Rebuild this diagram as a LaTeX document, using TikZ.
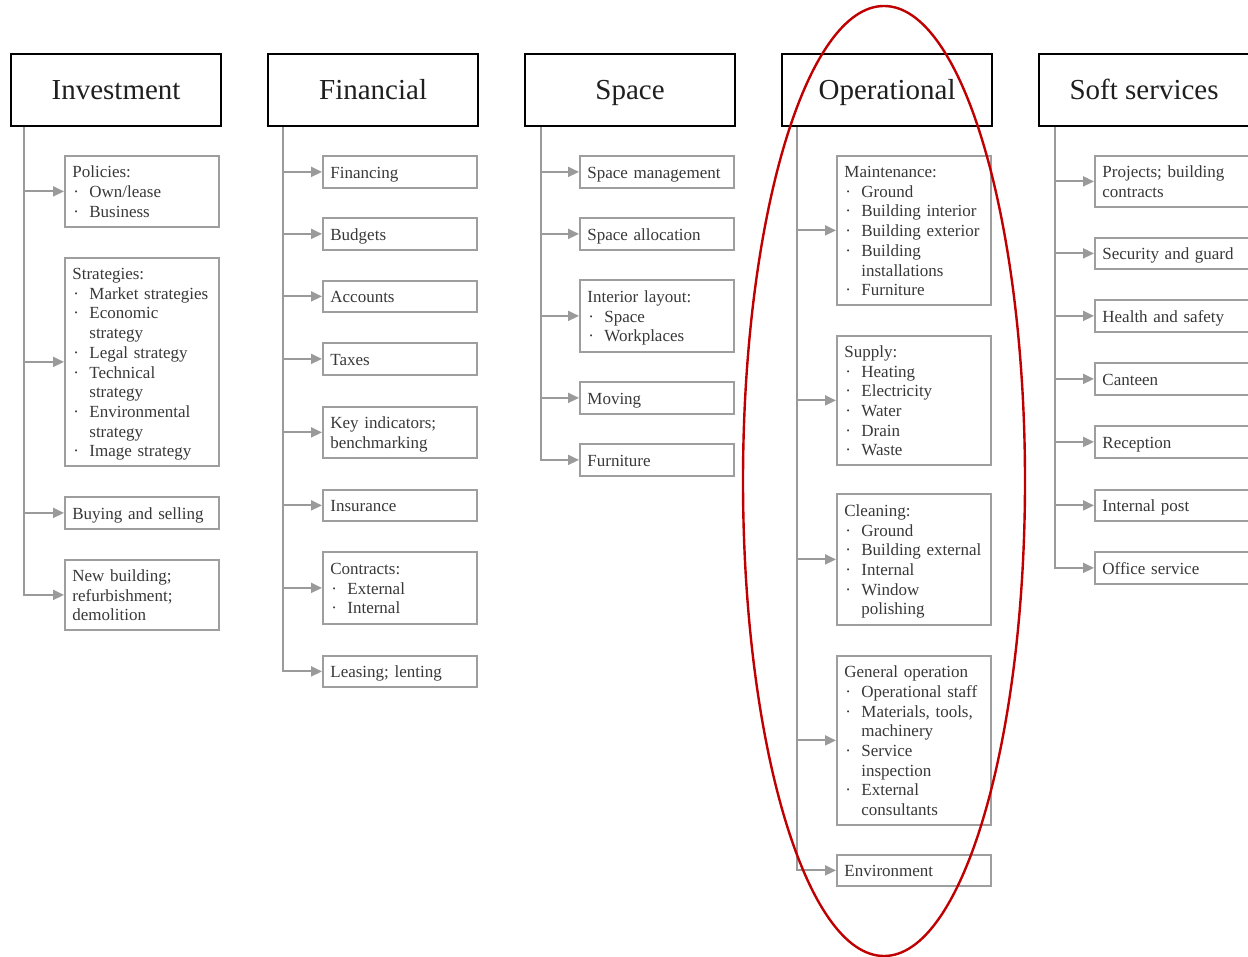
\documentclass[tikz,border=0pt]{standalone}
\usepackage{fontspec}
\setmainfont{Liberation Serif}
\usetikzlibrary{arrows.meta}
\definecolor{boxgray}{HTML}{9E9E9E}
\definecolor{arrgray}{HTML}{9A9A9A}
\definecolor{txt}{HTML}{383838}
\definecolor{ringred}{HTML}{C00000}
% bullet and continuation indents for list items inside the boxes
\newcommand\bl{\makebox[17pt][l]{\hspace{1pt}·}}
\newcommand\ct{\hspace*{17pt}}
\begin{document}
\begin{tikzpicture}[x=1pt,y=-1pt,
  hdr/.style={draw=black, line width=2.2pt, anchor=north west, minimum width=210pt,
    minimum height=72pt, inner sep=0pt, text height=22pt, text depth=4pt,
    font=\fontsize{29}{34}\selectfont, text=black!88},
  sub/.style={draw=boxgray, line width=1.8pt, anchor=north west, text width=139pt,
    inner xsep=7.5pt, inner ysep=0pt, align=left, text=txt,
    font=\fontsize{17}{19.7}\selectfont,
    execute at begin node=\rule{0pt}{18.5pt}, execute at end node=\strut},
  arr/.style={draw=arrgray, line width=2pt, -{Triangle[length=11pt,width=10pt]}}]
\useasboundingbox (0,0) rectangle (1248,957);

% ---------------- Investment
\node[hdr] (inv) at (10,53) {Investment};
\coordinate (tinv) at ([xshift=14pt]inv.south west);
\node[sub, minimum height=71pt] (inv1) at (64,155) {Policies:\\\bl Own/lease\\\bl Business};
\node[sub, minimum height=208pt] (inv2) at (64,257) {Strategies:\\\bl Market strategies\\\bl Economic\\\ct strategy\\\bl Legal strategy\\\bl Technical\\\ct strategy\\\bl Environmental\\\ct strategy\\\bl Image strategy};
\node[sub, minimum height=32pt] (inv3) at (64,496) {Buying and selling};
\node[sub, minimum height=70pt] (inv4) at (64,559) {New building;\\refurbishment;\\demolition};
\draw[arr] (tinv) |- (inv4.west);
\foreach \b in {inv1,inv2,inv3} \draw[arr] (tinv |- \b.west) -- (\b.west);

% ---------------- Financial
\node[hdr] (fin) at (267,53) {Financial};
\coordinate (tfin) at ([xshift=16pt]fin.south west);
\node[sub, minimum height=32pt] (fin1) at (322,155) {Financing};
\node[sub, minimum height=32pt] (fin2) at (322,217) {Budgets};
\node[sub, minimum height=31pt] (fin3) at (322,280) {Accounts};
\node[sub, minimum height=32pt] (fin4) at (322,342) {Taxes};
\node[sub, minimum height=51pt] (fin5) at (322,406) {Key indicators;\\benchmarking};
\node[sub, minimum height=31pt] (fin6) at (322,489) {Insurance};
\node[sub, minimum height=72pt] (fin7) at (322,551) {Contracts:\\\bl External\\\bl Internal};
\node[sub, minimum height=31pt] (fin8) at (322,655) {Leasing; lenting};
\draw[arr] (tfin) |- (fin8.west);
\foreach \b in {fin1,fin2,fin3,fin4,fin5,fin6,fin7} \draw[arr] (tfin |- \b.west) -- (\b.west);

% ---------------- Space
\node[hdr] (spa) at (524,53) {Space};
\coordinate (tspa) at ([xshift=17pt]spa.south west);
\node[sub, minimum height=32pt] (spa1) at (579,155) {Space management};
\node[sub, minimum height=32pt] (spa2) at (579,217) {Space allocation};
\node[sub, minimum height=72pt] (spa3) at (579,279) {Interior layout:\\\bl Space\\\bl Workplaces};
\node[sub, minimum height=32pt] (spa4) at (579,381) {Moving};
\node[sub, minimum height=32pt] (spa5) at (579,443) {Furniture};
\draw[arr] (tspa) |- (spa5.west);
\foreach \b in {spa1,spa2,spa3,spa4} \draw[arr] (tspa |- \b.west) -- (\b.west);

% ---------------- Operational
\node[hdr] (ope) at (781,53) {Operational};
\coordinate (tope) at ([xshift=16pt]ope.south west);
\node[sub, minimum height=149pt] (ope1) at (836,155) {Maintenance:\\\bl Ground\\\bl Building interior\\\bl Building exterior\\\bl Building\\\ct installations\\\bl Furniture};
\node[sub, minimum height=129pt] (ope2) at (836,335) {Supply:\\\bl Heating\\\bl Electricity\\\bl Water\\\bl Drain\\\bl Waste};
\node[sub, minimum height=131pt] (ope3) at (836,493) {Cleaning:\\\bl Ground\\\bl Building external\\\bl Internal\\\bl Window\\\ct polishing};
\node[sub, minimum height=169pt] (ope4) at (836,655) {General operation\\\bl Operational staff\\\bl Materials, tools,\\\ct machinery\\\bl Service\\\ct inspection\\\bl External\\\ct consultants};
\node[sub, minimum height=31pt] (ope5) at (836,854) {Environment};
\draw[arr] (tope) |- (ope5.west);
\foreach \b in {ope1,ope2,ope3,ope4} \draw[arr] (tope |- \b.west) -- (\b.west);

% ---------------- Soft services
\node[hdr] (sof) at (1038,53) {Soft services};
\coordinate (tsof) at ([xshift=17pt]sof.south west);
\node[sub, minimum height=51pt] (sof1) at (1094,155) {Projects; building\\contracts};
\node[sub, minimum height=31pt] (sof2) at (1094,237) {Security and guard};
\node[sub, minimum height=32pt] (sof3) at (1094,299) {Health and safety};
\node[sub, minimum height=32pt] (sof4) at (1094,362) {Canteen};
\node[sub, minimum height=32pt] (sof5) at (1094,425) {Reception};
\node[sub, minimum height=31pt] (sof6) at (1094,489) {Internal post};
\node[sub, minimum height=32pt] (sof7) at (1094,551) {Office service};
\draw[arr] (tsof) |- (sof7.west);
\foreach \b in {sof1,sof2,sof3,sof4,sof5,sof6} \draw[arr] (tsof |- \b.west) -- (\b.west);

% ---------------- highlight ring around the operational column
\draw[ringred, line width=2.4pt] (884,481) ellipse (141pt and 475pt);
\end{tikzpicture}
\end{document}
